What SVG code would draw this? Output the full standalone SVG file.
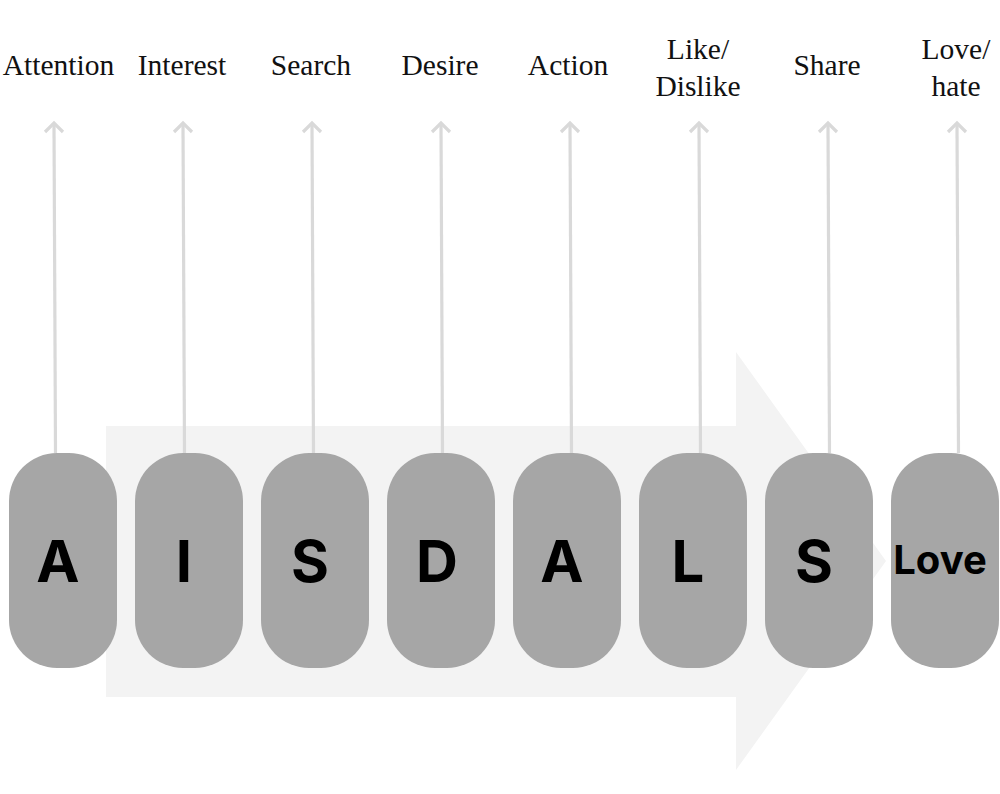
<svg xmlns="http://www.w3.org/2000/svg" width="1000" height="794" viewBox="0 0 1000 794">
<defs>
<style>
.lbl{font-family:"Liberation Serif","DejaVu Serif",serif;font-size:29.5px;fill:#111;text-anchor:middle}
.pill{fill:#a6a6a6}
.let{font-family:Inter,"DejaVu Sans",sans-serif;font-weight:700;font-size:58px;fill:#000;text-anchor:middle}
.conn{stroke:#d9d9d9;stroke-width:3.2;fill:none}
.head{stroke:#d9d9d9;stroke-width:3.2;fill:none;stroke-linejoin:miter}
</style>
</defs>
<rect width="1000" height="794" fill="#fff"/>
<g id="big-arrow">
<polygon points="106,426 736,426 736,352 886,561 736,770 736,697 106,697" fill="#f3f3f3"/>
</g>
<g id="connectors">
<line class="conn" x1="55.5" y1="453" x2="54" y2="123"/><polyline class="head" points="45,132 54,123 63,132"/>
<line class="conn" x1="184.5" y1="453" x2="183" y2="123"/><polyline class="head" points="174,132 183,123 192,132"/>
<line class="conn" x1="313.5" y1="453" x2="312" y2="123"/><polyline class="head" points="303,132 312,123 321,132"/>
<line class="conn" x1="442.5" y1="453" x2="441" y2="123"/><polyline class="head" points="432,132 441,123 450,132"/>
<line class="conn" x1="571.5" y1="453" x2="570" y2="123"/><polyline class="head" points="561,132 570,123 579,132"/>
<line class="conn" x1="700.5" y1="453" x2="699" y2="123"/><polyline class="head" points="690,132 699,123 708,132"/>
<line class="conn" x1="829.5" y1="453" x2="828" y2="123"/><polyline class="head" points="819,132 828,123 837,132"/>
<line class="conn" x1="958.5" y1="453" x2="957" y2="123"/><polyline class="head" points="948,132 957,123 966,132"/>
</g>
<g id="node-attention"><rect class="pill" x="9" y="453" width="108" height="215" rx="48"/><text class="let" x="58" y="582">A</text><text class="lbl" x="58.5" y="75">Attention</text></g>
<g id="node-interest"><rect class="pill" x="135" y="453" width="108" height="215" rx="48"/><text class="let" x="184" y="582">I</text><text class="lbl" x="182" y="75">Interest</text></g>
<g id="node-search"><rect class="pill" x="261" y="453" width="108" height="215" rx="48"/><text class="let" x="310" y="582">S</text><text class="lbl" x="311" y="75">Search</text></g>
<g id="node-desire"><rect class="pill" x="387" y="453" width="108" height="215" rx="48"/><text class="let" x="437" y="582">D</text><text class="lbl" x="440" y="75">Desire</text></g>
<g id="node-action"><rect class="pill" x="513" y="453" width="108" height="215" rx="48"/><text class="let" x="562" y="582">A</text><text class="lbl" x="568" y="75">Action</text></g>
<g id="node-like"><rect class="pill" x="639" y="453" width="108" height="215" rx="48"/><text class="let" x="688" y="582">L</text><text class="lbl" x="698" y="59">Like/</text><text class="lbl" x="698" y="96">Dislike</text></g>
<g id="node-share"><rect class="pill" x="765" y="453" width="108" height="215" rx="48"/><text class="let" x="814" y="582">S</text><text class="lbl" x="827" y="75">Share</text></g>
<g id="node-love"><rect class="pill" x="891" y="453" width="108" height="215" rx="48"/><text class="let" x="940" y="574" style="font-size:40px">Love</text><text class="lbl" x="956" y="59">Love/</text><text class="lbl" x="956" y="96">hate</text></g>
</svg>
